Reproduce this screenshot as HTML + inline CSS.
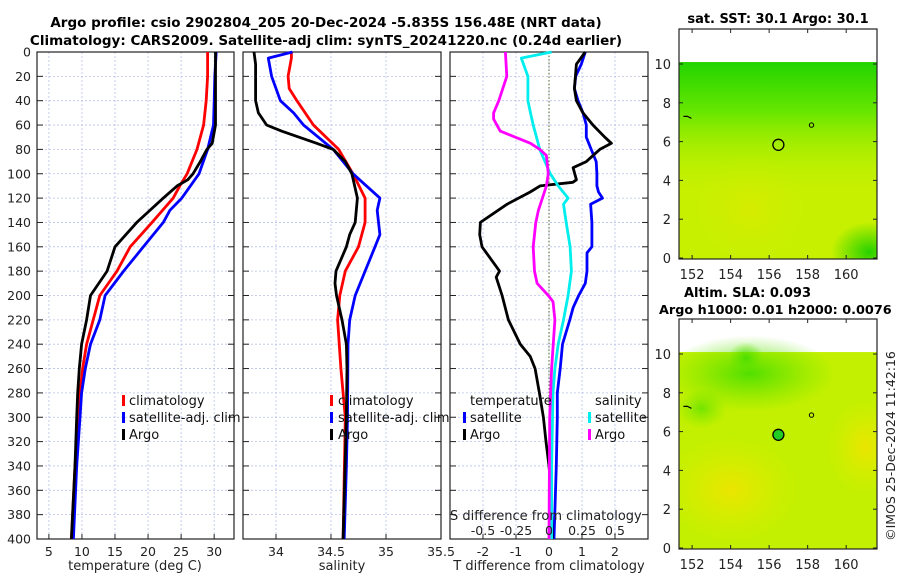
<!DOCTYPE html>
<html><head><meta charset="utf-8"><style>
html,body{margin:0;padding:0;background:#fff;}
svg{display:block;font-family:"DejaVu Sans","Liberation Sans",sans-serif;}
</style></head><body>
<svg id="fig" width="900" height="580" viewBox="0 0 900 580">
<defs>
<radialGradient id="g1c" cx="0.5" cy="0.5" r="0.5"><stop offset="0" stop-color="#1fd000" stop-opacity="0.95"/><stop offset="1" stop-color="#1fd000" stop-opacity="0"/></radialGradient>
<linearGradient id="g1top" x1="0" y1="0" x2="0" y2="1"><stop offset="0" stop-color="#22d400"/><stop offset="0.25" stop-color="#66e600"/><stop offset="0.5" stop-color="#a8ee00" stop-opacity="0.5"/><stop offset="0.7" stop-color="#c8f000" stop-opacity="0"/></linearGradient>
<radialGradient id="gy" cx="0.5" cy="0.5" r="0.5"><stop offset="0" stop-color="#f0e400" stop-opacity="0.9"/><stop offset="1" stop-color="#e0ee00" stop-opacity="0"/></radialGradient>
<radialGradient id="gg2" cx="0.5" cy="0.5" r="0.5"><stop offset="0" stop-color="#44dd00" stop-opacity="0.9"/><stop offset="1" stop-color="#66e400" stop-opacity="0"/></radialGradient>
<clipPath id="clip1"><rect x="679" y="29" width="198" height="230"/></clipPath>
<clipPath id="clip2"><rect x="679" y="319" width="198" height="230"/></clipPath>
</defs>
<g id="titles" font-weight="bold" font-size="13.5" fill="#000">
<text x="326" y="27" text-anchor="middle">Argo profile: csio 2902804_205 20-Dec-2024 -5.835S 156.48E (NRT data)</text>
<text x="326" y="45" text-anchor="middle">Climatology: CARS2009. Satellite-adj clim: synTS_20241220.nc (0.24d earlier)</text>
<text x="778" y="23" text-anchor="middle" font-size="13">sat. SST: 30.1 Argo: 30.1</text>
<text x="684" y="297" font-size="13">Altim. SLA: 0.093</text>
<text x="659" y="314" font-size="12.8">Argo h1000: 0.01 h2000: 0.0076</text>
</g>
<text transform="translate(895,446) rotate(-90)" text-anchor="middle" font-size="12.5" fill="#222">©IMOS 25-Dec-2024 11:42:16</text>
<g id="plots"></g>
<g id="maps"></g>
</svg>
<script>
// ---------- data ----------
var depthTicks=[0,20,40,60,80,100,120,140,160,180,200,220,240,260,280,300,320,340,360,380,400];
var tempTicks=[5,10,15,20,25,30];
var salTicks=[34,34.5,35,35.5];
var salTickLabels=["34","34.5","35","35.5"];
var tdTicks=[-2,-1,0,1,2];
var sdTicks=[-0.5,-0.25,0,0.25,0.5];
var sdTickLabels=["-0.5","-0.25","0","0.25","0.5"];

var tClimDepth=[0,20,40,60,80,100,110,120,140,160,180,200,220,240,260,280,300,340,400];
var tClim=[29.0,29.0,28.8,28.4,27.4,25.9,24.8,23.8,20.6,17.3,15.3,12.7,11.7,10.7,10.1,9.7,9.5,8.95,8.4];
var tSatDepth=[0,20,40,60,80,100,120,130,140,160,180,200,220,240,260,280,300,340,400];
var tSat=[30.3,30.1,30.0,29.9,29.0,27.7,25.1,23.3,22.3,19.3,16.3,13.5,12.7,11.3,10.5,9.95,9.7,9.2,8.7];
var tArgoDepth=[0,60,75,80,90,100,105,110,120,140,160,180,200,220,240,260,280,300,340,400];
var tArgo=[30.2,30.2,29.7,28.9,27.9,26.8,26.0,24.4,22.3,18.3,15.0,13.8,11.3,10.7,9.95,9.6,9.35,9.2,8.95,8.4];

var sClimDepth=[0,5,20,30,40,60,80,100,120,140,160,180,200,220,260,300,400];
var sClim=[34.14,34.14,34.11,34.12,34.19,34.34,34.57,34.70,34.81,34.81,34.75,34.63,34.58,34.56,34.59,34.63,34.61];
var sSatDepth=[0,5,20,40,50,60,80,100,120,130,150,160,200,220,240,300,340,400];
var sSat=[34.15,33.93,33.96,34.04,34.16,34.25,34.52,34.70,34.945,34.92,34.945,34.9,34.72,34.67,34.655,34.65,34.64,34.62];
var sArgoDepth=[0,10,40,50,60,65,75,80,90,100,120,140,150,160,180,190,200,220,240,260,300,400];
var sArgo=[33.80,33.815,33.815,33.84,33.915,34.05,34.37,34.52,34.63,34.69,34.74,34.72,34.67,34.64,34.545,34.536,34.55,34.60,34.64,34.645,34.64,34.61];

var dtSatDepth=[0,10,20,30,40,50,60,70,80,90,100,110,115,120,125,140,160,165,180,190,200,210,220,240,260,280,300,340,400];
var dtSat=[1.1,0.98,0.81,0.77,0.88,1.03,1.13,1.13,1.28,1.43,1.45,1.45,1.5,1.62,1.26,1.3,1.3,1.15,1.15,1.1,0.9,0.73,0.63,0.41,0.34,0.25,0.25,0.22,0.15];
var dtArgoDepth=[0,10,30,40,50,60,70,75,80,90,95,105,107,110,115,125,140,150,160,175,180,185,200,220,240,250,260,280,300,320,340,360,400];
var dtArgo=[1.1,0.83,0.77,0.83,1.03,1.33,1.69,1.89,1.54,1.13,0.73,0.83,0.72,-0.27,-0.57,-1.27,-2.08,-2.1,-2.03,-1.63,-1.5,-1.6,-1.42,-1.23,-0.87,-0.57,-0.42,-0.29,-0.17,-0.09,0.0,0.06,0.1];
var dsSatDepth=[0,5,20,40,50,60,80,90,100,110,120,125,140,160,180,200,220,240,260,280,340,400];
var dsSat=[0.02,-0.21,-0.16,-0.16,-0.14,-0.12,-0.07,-0.03,0.01,0.07,0.145,0.11,0.13,0.16,0.17,0.145,0.11,0.07,0.045,0.03,0.02,0.02];
var dsArgoDepth=[0,20,40,50,55,65,75,80,85,100,110,130,140,160,180,190,200,205,220,260,300,400];
var dsArgo=[-0.33,-0.32,-0.38,-0.42,-0.42,-0.37,-0.14,-0.07,-0.02,-0.005,-0.02,-0.08,-0.1,-0.12,-0.11,-0.09,-0.005,0.03,0.045,0.02,0.005,0.0];

var mapLon=[152,154,156,158,160];
var mapLat=[0,2,4,6,8,10];
var argoLon=156.48, argoLat=5.835;

// ---------- helpers ----------
var NS="http://www.w3.org/2000/svg";
function mk(tag,attrs,parent){var e=document.createElementNS(NS,tag);for(var k in attrs)e.setAttribute(k,attrs[k]);if(parent)parent.appendChild(e);return e;}
var plots=document.getElementById('plots');
var Y0=52,Y1=539,DMAX=400;
function yD(d){return Y0+(d/DMAX)*(Y1-Y0);}
function panel(x0,x1,xmin,xmax){return {x0:x0,x1:x1,fx:function(v){return x0+(v-xmin)/(xmax-xmin)*(x1-x0);}};}
var P1=panel(37,234,3.2,33.0), P2=panel(243,441,33.7,35.5), P3=panel(450,648,-3,3);
var P3s=panel(450,648,-0.75,0.75);

function frame(P,name,xt,xl,showY){
  var g=mk('g',{},plots);
  
  
  depthTicks.forEach(function(d){var y=yD(d);
    if(d>0&&d<400)mk('line',{x1:P.x0,x2:P.x1,y1:y,y2:y,stroke:'#b8c0e8','stroke-width':0.8,'stroke-dasharray':'2,2'},g);
    mk('line',{x1:P.x0,x2:P.x0+6,y1:y,y2:y,stroke:'#222','stroke-width':1},g);
    mk('line',{x1:P.x1-6,x2:P.x1,y1:y,y2:y,stroke:'#222','stroke-width':1},g);
    if(showY){var t=mk('text',{x:31,y:y+4.5,'text-anchor':'end','font-size':12.5,fill:'#222'},g);t.textContent=d;
      
      }
  });
  xt.forEach(function(v,i){var x=P.fx(v);
    if(x>P.x0+1&&x<P.x1-1)mk('line',{x1:x,x2:x,y1:Y0,y2:Y1,stroke:'#b8c0e8','stroke-width':0.8,'stroke-dasharray':'2,2'},g);
    mk('line',{x1:x,x2:x,y1:Y1-5,y2:Y1,stroke:'#222'},g);
    var t=mk('text',{x:x,y:Y1+17,'text-anchor':'middle','font-size':12.5,fill:'#222'},g);t.textContent=xl?xl[i]:v;
    
    
  });
  mk('rect',{x:P.x0,y:Y0,width:P.x1-P.x0,height:Y1-Y0,fill:'none',stroke:'#222','stroke-width':1.2},g);
  return g;
}
function line(P,xs,ds,color,name,w){
  var pts=xs.map(function(v,i){return P.fx(v).toFixed(1)+','+yD(ds[i]).toFixed(1);}).join(' ');
  var p=mk('polyline',{points:pts,fill:'none',stroke:color,'stroke-width':w||2.8,'stroke-linejoin':'round'},plots);
  
  
}
function text(x,y,s,name,opt){var t=mk('text',Object.assign({x:x,y:y,'font-size':13,fill:'#111'},opt||{}),plots);t.textContent=s;
  
  return t;}
function legMark(x,y,c){var r=mk('rect',{x:x,y:y-11,width:3,height:11,fill:c},plots);
  
  }

// panel 1
frame(P1,'temperature-panel',tempTicks,null,true);
line(P1,tClim,tClimDepth,'#ff0000','temp-climatology-line');
line(P1,tSat,tSatDepth,'#0000ff','temp-satellite-line');
line(P1,tArgo,tArgoDepth,'#000000','temp-argo-line');
text(135,570,'temperature (deg C)','temperature-axis-title',{'text-anchor':'middle','font-size':13,fill:'#222'});
legMark(122,406,'#ff0000');text(129,405,'climatology','legend-climatology');
legMark(122,423,'#0000ff');text(129,422,'satellite-adj. clim','legend-satellite-adj');
legMark(122,440,'#000');text(129,439,'Argo','legend-argo');

// panel 2
frame(P2,'salinity-panel',salTicks,salTickLabels,false);
line(P2,sClim,sClimDepth,'#ff0000','sal-climatology-line');
line(P2,sSat,sSatDepth,'#0000ff','sal-satellite-line');
line(P2,sArgo,sArgoDepth,'#000000','sal-argo-line');
text(342,570,'salinity','salinity-axis-title',{'text-anchor':'middle','font-size':13,fill:'#222'});
legMark(330,406,'#ff0000');text(338,405,'climatology','legend-climatology-2');
legMark(330,423,'#0000ff');text(338,422,'satellite-adj. clim','legend-satellite-adj-2');
legMark(330,440,'#000');text(338,439,'Argo','legend-argo-2');

// panel 3
frame(P3,'difference-panel',tdTicks,null,false);
var zx=P3.fx(0);
var zl=mk('line',{x1:zx,x2:zx,y1:Y0,y2:Y1,stroke:'#556b2f','stroke-width':1,'stroke-dasharray':'1.5,2'},plots);


line(P3,dtSat,dtSatDepth,'#0000ff','tdiff-satellite-line');
line(P3,dtArgo,dtArgoDepth,'#000000','tdiff-argo-line');
line(P3s,dsSat,dsSatDepth,'#00eeee','sdiff-satellite-line');
line(P3s,dsArgo,dsArgoDepth,'#ff00ff','sdiff-argo-line');
text(549,570,'T difference from climatology','tdiff-axis-title',{'text-anchor':'middle','font-size':13,fill:'#222'});
text(470,405,'temperature','legend-temperature-header');
legMark(463,423,'#0000ff');text(470,422,'satellite','legend-t-satellite');
legMark(463,440,'#000');text(470,439,'Argo','legend-t-argo');
text(595,405,'salinity','legend-salinity-header');
legMark(588,423,'#00eeee');text(595,422,'satellite','legend-s-satellite');
legMark(588,440,'#ff00ff');text(595,439,'Argo','legend-s-argo');
text(450,520,'S difference from climatology','sdiff-axis-title',{'font-size':13,fill:'#222'});
sdTicks.forEach(function(v,i){text(P3s.fx(v),535,sdTickLabels[i],'sdiff-tick-label',{'text-anchor':'middle','font-size':12.5,fill:'#222'});});

// ---------- maps ----------
var maps=document.getElementById('maps');
function mapPanel(top,bottom,lat10y,lat0y,name,variant,clip){
  var X0=679,X1=877,lonMin=151.32,lonMax=161.6;
  function fx(v){return X0+(v-lonMin)/(lonMax-lonMin)*(X1-X0);}
  function fy(v){return lat0y+(lat10y-lat0y)*v/10;}
  var g=mk('g',{},maps);
  
  
  var gc=mk('g',{'clip-path':'url(#'+clip+')'},g);
  var dy=fy(10.1), by=Math.min(fy(0)+2,bottom);
  if(variant==1){
    mk('rect',{x:X0,y:dy,width:X1-X0,height:by-dy,fill:'#c6f000'},gc);
    mk('rect',{x:X0,y:dy,width:X1-X0,height:by-dy,fill:'url(#g1top)'},gc);
    mk('ellipse',{cx:fx(161.2),cy:fy(0.3),rx:38,ry:30,fill:'url(#g1c)'},gc);
    mk('ellipse',{cx:fx(155),cy:fy(2.5),rx:60,ry:55,fill:'url(#gy)',opacity:0.4},gc);
  } else {
    mk('rect',{x:X0,y:dy,width:X1-X0,height:by-dy,fill:'#c2f000'},gc);
    mk('ellipse',{cx:fx(154),cy:fy(3),rx:70,ry:55,fill:'url(#gy)'},gc);
    mk('ellipse',{cx:fx(161),cy:fy(5.2),rx:40,ry:50,fill:'url(#gy)'},gc);
    mk('ellipse',{cx:fx(155),cy:fy(9),rx:85,ry:38,fill:'url(#gg2)'},gc);
    mk('ellipse',{cx:fx(154.8),cy:fy(9.8),rx:18,ry:16,fill:'url(#gg2)'},gc);
    mk('ellipse',{cx:fx(152.5),cy:fy(7.2),rx:25,ry:20,fill:'url(#gg2)',opacity:0.7},gc);
  }
  mk('path',{d:'M'+fx(151.55)+' '+fy(7.3)+' l4 0 l2 1 l2 1',stroke:'#000',fill:'none','stroke-width':1.2},g);
  mk('circle',{cx:fx(158.2),cy:fy(6.85),r:2.2,stroke:'#000',fill:'none','stroke-width':1},g);
  var c=mk('circle',{cx:fx(argoLon),cy:fy(argoLat),r:5.5,stroke:'#000','stroke-width':1.3,fill:variant==1?'none':'#22cc22'},g);
  
  
  mapLat.forEach(function(v){var y=fy(v);
    mk('line',{x1:X0,x2:X0+4,y1:y,y2:y,stroke:'#222'},g);mk('line',{x1:X1-4,x2:X1,y1:y,y2:y,stroke:'#222'},g);
    var t=mk('text',{x:671,y:y+5,'text-anchor':'end','font-size':13,fill:'#222'},g);t.textContent=v;
    
    });
  mapLon.forEach(function(v){var x=fx(v);
    mk('line',{x1:x,x2:x,y1:top,y2:top+4,stroke:'#222'},g);mk('line',{x1:x,x2:x,y1:bottom-4,y2:bottom,stroke:'#222'},g);
    var t=mk('text',{x:x,y:bottom+20,'text-anchor':'middle','font-size':13,fill:'#222'},g);t.textContent=v;
    
    });
  mk('rect',{x:X0,y:top,width:X1-X0,height:bottom-top,fill:'none',stroke:'#222','stroke-width':1.2},g);
}
mapPanel(29,259,64,258,'sst-map',1,'clip1');
mapPanel(319,549,354,548,'sla-map',2,'clip2');
</script>
</body></html>
